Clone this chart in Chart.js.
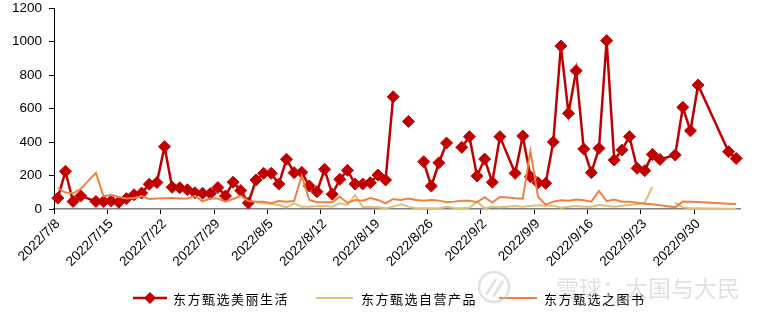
<!DOCTYPE html>
<html>
<head>
<meta charset="utf-8">
<script src="https://cdn.jsdelivr.net/npm/chart.js@4.4.1/dist/chart.umd.min.js"></script>
<style>
  html, body { margin: 0; padding: 0; background: #fff; }
  #wrap { width: 758px; height: 313px; position: relative; }
</style>
</head>
<body>
<div id="wrap"><canvas id="c" width="758" height="313"></canvas></div>
<script>
// ---- Data (NaN = missing point joined by the line, null = break in the line) ----
const categories = [
  '2022/7/8','2022/7/9','2022/7/10','2022/7/11','2022/7/12','2022/7/13','2022/7/14','2022/7/15','2022/7/16','2022/7/17',
  '2022/7/18','2022/7/19','2022/7/20','2022/7/21','2022/7/22','2022/7/23','2022/7/24','2022/7/25','2022/7/26','2022/7/27',
  '2022/7/28','2022/7/29','2022/7/30','2022/7/31','2022/8/1','2022/8/2','2022/8/3','2022/8/4','2022/8/5','2022/8/6',
  '2022/8/7','2022/8/8','2022/8/9','2022/8/10','2022/8/11','2022/8/12','2022/8/13','2022/8/14','2022/8/15','2022/8/16',
  '2022/8/17','2022/8/18','2022/8/19','2022/8/20','2022/8/21','2022/8/22','2022/8/23','2022/8/24','2022/8/25','2022/8/26',
  '2022/8/27','2022/8/28','2022/8/29','2022/8/30','2022/8/31','2022/9/1','2022/9/2','2022/9/3','2022/9/4','2022/9/5',
  '2022/9/6','2022/9/7','2022/9/8','2022/9/9','2022/9/10','2022/9/11','2022/9/12','2022/9/13','2022/9/14','2022/9/15',
  '2022/9/16','2022/9/17','2022/9/18','2022/9/19','2022/9/20','2022/9/21','2022/9/22','2022/9/23','2022/9/24','2022/9/25',
  '2022/9/26','2022/9/27','2022/9/28','2022/9/29','2022/9/30','2022/10/1','2022/10/2','2022/10/3','2022/10/4','2022/10/5'
];
const seriesNames = ['东方甄选美丽生活', '东方甄选自营产品', '东方甄选之图书'];
const beautyLife = [
  65, 225, 45, 78, NaN, 45, 45, 48, 40, 62,
  85, 95, 148, 158, 372, 130, 127, 115, 97, 94,
  92, 128, 78, 160, 110, 36, 173, 213, 213, 149,
  297, 217, 219, 137, 103, 237, 88, 177, 231, 149,
  149, 157, 203, 173, 670, null, 523, null, 282, 137,
  276, 394, null, 368, 432, 197, 298, 159, 432, NaN,
  213, 436, 193, 157, 153, 400, 973, 571, 826, 358,
  217, 362, 1005, 292, 352, 432, 243, 229, 326, 296,
  NaN, 322, 607, 467, 740, NaN, NaN, NaN, 342, 302
];
const ownProducts = [
  null, null, null, null, null, null, null, null, null, null,
  null, null, null, null, null, null, null, null, null, null,
  null, null, null, null, null, null, 40, 34, 30, 24,
  10, 34, 14, 14, 16, 18, 14, 34, 24, 84,
  12, 12, 10, 4, 14, 28, 14, 4, 4, 4,
  4, 14, 6, 4, 8, 44, 4, 14, 10, 14,
  18, 14, 18, 22, 20, 20, 8, 14, 18, 14,
  14, 24, 20, 14, 20, 24, 30, 38, 133, null,
  null, 38, 10, 5, 4, NaN, NaN, NaN, 2, 1
];
const books = [
  124, 98, 94, 120, 168, 215, 76, 84, 72, 63,
  66, 78, 60, 62, 64, 65, 63, 62, 78, 46,
  62, 62, 44, 60, 78, 48, 44, 44, 34, 48,
  44, 48, 197, 54, 40, 40, 40, 73, 36, 54,
  50, 66, 54, 34, 60, 54, 62, 54, 50, 54,
  50, 40, 44, 50, 50, 40, 70, 38, 72, 68,
  64, 62, 347, 73, 26, 44, 52, 50, 57, 52,
  44, 108, 47, 57, 44, 44, 38, 32, 28, 22,
  17, 10, 44, 43, 42, NaN, NaN, NaN, 32, 30
];
const yTicks = [0, 200, 400, 600, 800, 1000, 1200];

const colors = ['#C00000', '#DFC072', '#EE8142'];

// hide segments that bridge a null (true break); NaN gaps stay joined
function segColor(base) {
  return ctx => {
    const data = ctx.chart.data.datasets[ctx.datasetIndex].data;
    for (let k = ctx.p1DataIndex - 1; k >= 0; k--) {
      const v = data[k];
      if (v === null) return 'rgba(0,0,0,0)';
      if (!Number.isNaN(v)) break;
    }
    return base;
  };
}

const legendPlugin = {
  id: 'customLegend',
  afterDraw(chart) {
    const ctx = chart.ctx;
    const y = 298;
    const items = [
      { x0: 133, x1: 167, tx: 173, marker: true },
      { x0: 316, x1: 353, tx: 361, marker: false },
      { x0: 499, x1: 537, tx: 544, marker: false }
    ];
    ctx.save();
    items.forEach((it, i) => {
      const ds = chart.data.datasets[i];
      ctx.strokeStyle = ds.borderColor;
      ctx.lineWidth = ds.borderWidth;
      ctx.beginPath();
      ctx.moveTo(it.x0, y);
      ctx.lineTo(it.x1, y);
      ctx.stroke();
      if (it.marker) {
        const cx = (it.x0 + it.x1) / 2, r = 6;
        ctx.fillStyle = ds.borderColor;
        ctx.beginPath();
        ctx.moveTo(cx, y - r); ctx.lineTo(cx + r, y); ctx.lineTo(cx, y + r); ctx.lineTo(cx - r, y);
        ctx.closePath();
        ctx.fill();
      }
      ctx.fillStyle = '#000';
      ctx.font = '13px "Noto Sans CJK SC"';
      ctx.textBaseline = 'middle';
      ctx.textAlign = 'left';
      try { ctx.letterSpacing = '1.5px'; } catch (e) {}
      ctx.fillText(ds.label, it.tx, y + 1);
    });
    // watermark
    try { ctx.letterSpacing = '0px'; } catch (e) {}
    ctx.globalAlpha = 0.55;
    ctx.strokeStyle = '#c8c8c8';
    ctx.lineWidth = 2.5;
    ctx.beginPath();
    ctx.arc(494, 287, 15, 0, Math.PI * 2);
    ctx.stroke();
    ctx.beginPath();
    ctx.moveTo(486, 295); ctx.lineTo(496, 279);
    ctx.moveTo(493, 297); ctx.lineTo(503, 281);
    ctx.stroke();
    ctx.fillStyle = '#c8c8c8';
    ctx.font = '23px "Noto Sans CJK SC"';
    ctx.textBaseline = 'middle';
    ctx.fillText('雪球：大国与大民', 556, 288);
    ctx.restore();
  }
};

const tickFont = { family: '"Liberation Sans", Arial, sans-serif', size: 13.5 };

new Chart(document.getElementById('c'), {
  type: 'line',
  data: {
    labels: categories,
    datasets: [
      {
        label: seriesNames[0], data: beautyLife, order: 3,
        borderColor: colors[0], backgroundColor: colors[0], borderWidth: 2.5,
        pointStyle: 'rectRot', pointRadius: 6, pointBorderWidth: 1,
        pointBackgroundColor: colors[0], pointBorderColor: colors[0],
        spanGaps: true, tension: 0,
        segment: { borderColor: segColor(colors[0]) }
      },
      {
        label: seriesNames[1], data: ownProducts, order: 2,
        borderColor: colors[1], backgroundColor: colors[1], borderWidth: 2,
        pointRadius: 0, spanGaps: true, tension: 0,
        segment: { borderColor: segColor(colors[1]) }
      },
      {
        label: seriesNames[2], data: books, order: 1,
        borderColor: colors[2], backgroundColor: colors[2], borderWidth: 2,
        pointRadius: 0, spanGaps: true, tension: 0,
        segment: { borderColor: segColor(colors[2]) }
      }
    ]
  },
  options: {
    responsive: false,
    animation: false,
    events: [],
    layout: { padding: { left: 0, right: 18, top: 0, bottom: 0 } },
    plugins: { legend: { display: false }, tooltip: { enabled: false } },
    scales: {
      x: {
        type: 'category',
        offset: true,
        grid: {
          offset: true,
          drawOnChartArea: false,
          drawTicks: true,
          tickLength: 5,
          tickColor: c => (c.index !== undefined && c.index % 7 === 0) ? '#000' : 'rgba(0,0,0,0)'
        },
        border: { color: '#7f7f7f', width: 1.5 },
        ticks: {
          autoSkip: false,
          minRotation: 45,
          maxRotation: 45,
          padding: 2,
          color: '#000',
          font: tickFont,
          callback: function (v, i) { return i % 7 === 0 ? this.getLabelForValue(v) : ''; }
        },
        afterFit: s => { s.height = 104; }
      },
      y: {
        min: 0, max: 1200,
        afterBuildTicks: s => { s.ticks = yTicks.map(v => ({ value: v })); },
        grid: { drawOnChartArea: false, drawTicks: true, tickLength: 5, tickColor: '#000' },
        border: { color: '#000', width: 1 },
        ticks: { color: '#000', font: tickFont, padding: 7, callback: v => String(v) },
        afterFit: s => { s.width = 54; s.paddingTop = 8; s.paddingBottom = 0; }
      }
    }
  },
  plugins: [legendPlugin]
});
</script>
</body>
</html>
